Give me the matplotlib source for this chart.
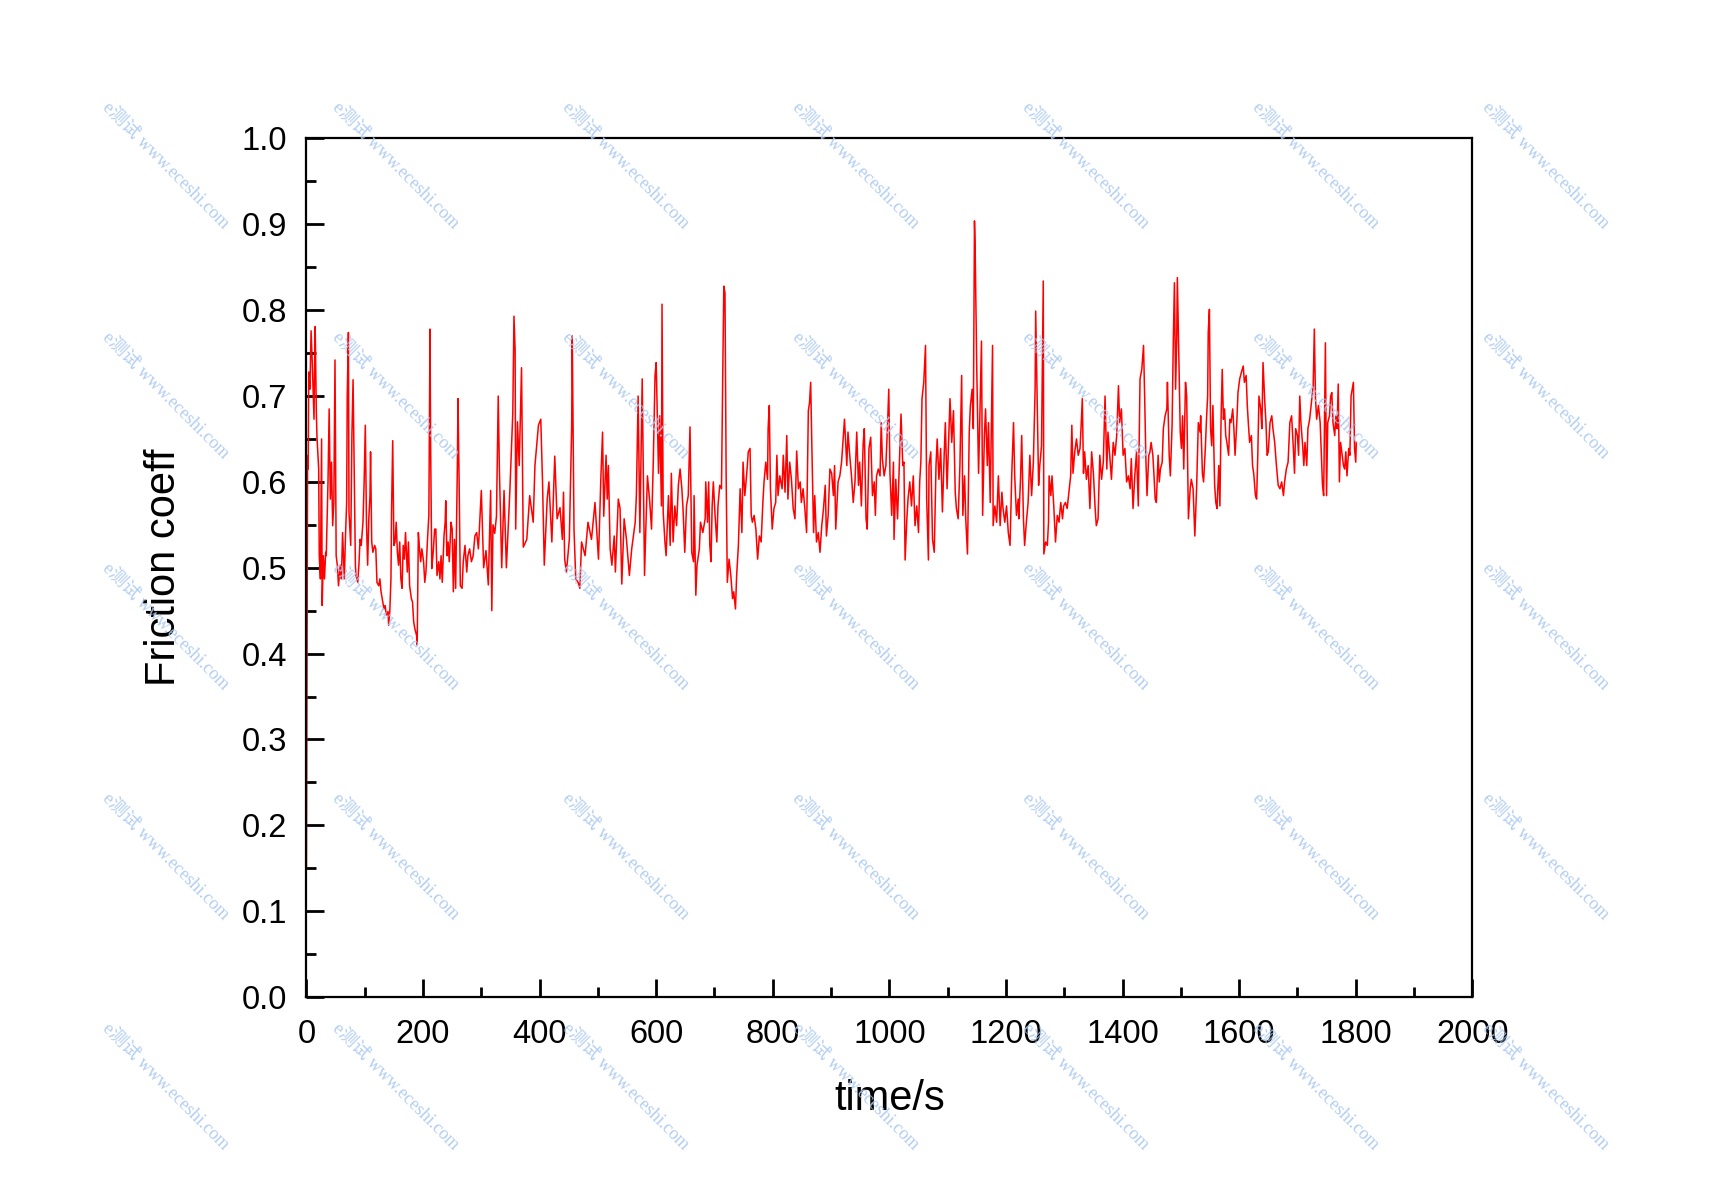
import matplotlib
matplotlib.use("Agg")
import matplotlib.pyplot as plt
import numpy as np
from matplotlib.ticker import MultipleLocator, FormatStrFormatter

# friction coefficient, in time segments
t_a = [0, 1, 2, 3, 4, 6, 8, 10, 11, 13, 14, 15, 17, 18, 21, 22, 24, 26, 27, 29,
       31, 33, 34, 37, 39, 41, 43, 45, 47, 49, 51, 53, 55, 58, 60, 62, 65, 67, 69, 70,
       72, 73, 76, 78, 80, 82, 84, 85, 88, 90, 92, 94, 97, 99, 101, 103, 105, 107, 109, 110,
       112, 114, 117, 119, 121, 124, 126, 128, 130, 133, 135, 137, 140, 141, 143, 145, 146, 148, 150, 152,
       154, 156, 158, 160, 162, 164, 166, 168, 170, 173, 175, 177, 180, 182, 184, 186, 189, 190, 192, 194,
       196, 198, 201, 203, 205, 208, 210, 212, 213, 215, 217, 220, 222, 224, 227, 229, 231, 233, 236, 238,
       239, 241, 243, 245, 248, 250, 252, 254, 256, 259, 260, 262, 264, 267, 269, 272, 275, 277, 280, 283,
       286, 289, 292, 295]
mu_a = [0.15, 0.39, 0.63, 0.615, 0.728, 0.708, 0.776, 0.739, 0.716, 0.673,
        0.735, 0.781, 0.681, 0.654, 0.615, 0.514, 0.487, 0.65, 0.456, 0.514,
        0.487, 0.518, 0.514, 0.6, 0.685, 0.58, 0.623, 0.549, 0.576, 0.742,
        0.514, 0.503, 0.479, 0.503, 0.487, 0.541, 0.487, 0.537, 0.576, 0.70,
        0.774, 0.565, 0.526, 0.654, 0.719, 0.607, 0.503, 0.491, 0.483, 0.503,
        0.533, 0.526, 0.553, 0.6, 0.666, 0.553, 0.503, 0.557, 0.584, 0.635,
        0.53, 0.518, 0.526, 0.522, 0.483, 0.479, 0.487, 0.472, 0.464, 0.452,
        0.456, 0.445, 0.449, 0.433, 0.449, 0.487, 0.565, 0.648, 0.526, 0.53,
        0.553, 0.518, 0.503, 0.53, 0.487, 0.476, 0.526, 0.51, 0.541, 0.495,
        0.53, 0.479, 0.464, 0.46, 0.437, 0.429, 0.421, 0.41, 0.541, 0.522,
        0.507, 0.522, 0.507, 0.483, 0.495, 0.537, 0.561, 0.778, 0.646, 0.499,
        0.514, 0.545, 0.545, 0.491, 0.507, 0.487, 0.514, 0.483, 0.537, 0.553,
        0.578, 0.514, 0.53, 0.507, 0.553, 0.545, 0.472, 0.533, 0.476, 0.623,
        0.697, 0.596, 0.479, 0.476, 0.507, 0.526, 0.495, 0.514, 0.522, 0.507,
        0.514, 0.537, 0.541, 0.522]

t_b = [300, 304, 308, 312, 316, 318, 320, 323, 326, 329, 331, 335, 339, 343, 349, 354, 356, 358, 359, 362,
       365, 369, 372, 378, 383, 389, 392, 398, 402, 405, 408, 413, 416, 421, 426, 430, 435, 439, 441, 443,
       446, 451, 455, 456, 459, 462, 466, 469, 472, 478, 483, 489, 495, 501, 505, 508, 510, 514, 516, 518,
       521, 524, 528, 530, 535, 538, 541, 545, 549, 554, 558, 564, 566, 569, 572, 576, 580, 582, 585, 589,
       592, 595, 598, 600, 604]
mu_b = [0.59, 0.50, 0.52, 0.48, 0.59, 0.45, 0.55, 0.54, 0.56, 0.70, 0.615, 0.50, 0.59, 0.50, 0.59, 0.68,
        0.793, 0.754, 0.545, 0.67, 0.619, 0.733, 0.524, 0.533, 0.584, 0.553, 0.619, 0.666, 0.673, 0.60,
        0.503, 0.58, 0.60, 0.53, 0.63, 0.557, 0.57, 0.533, 0.588, 0.51, 0.495, 0.533, 0.664, 0.77, 0.545,
        0.487, 0.483, 0.476, 0.53, 0.514, 0.553, 0.533, 0.576, 0.51, 0.603, 0.658, 0.56, 0.631, 0.58,
        0.619, 0.522, 0.503, 0.537, 0.495, 0.58, 0.569, 0.481, 0.557, 0.533, 0.491, 0.522, 0.553, 0.584,
        0.70, 0.541, 0.72, 0.491, 0.541, 0.607, 0.576, 0.545, 0.623, 0.724, 0.739, 0.61]

t_c = [606, 609, 610, 612, 615, 617, 621, 624, 626, 629, 632, 635, 638, 641, 644, 646, 649, 652, 655, 658,
       661, 664, 665, 668, 670, 674, 676, 680, 684, 685, 688, 690, 692, 694, 696, 698, 701, 704, 706, 709,
       712, 714, 716, 718, 720, 722, 725, 728, 731, 733, 736, 738, 741, 744, 747, 749, 752, 755, 758, 761,
       763, 765, 768, 771, 774, 777, 780, 783, 785, 788, 791, 792, 794, 796, 799, 802, 805, 807, 809, 812,
       816, 818, 821, 824, 826, 829, 832, 835, 838, 841, 844, 847, 849, 852, 855, 858, 861, 863, 865, 867,
       870, 872, 875, 878, 881, 884, 887, 890, 892, 895, 898, 901, 904, 906, 908, 912, 915]
mu_c = [0.677, 0.572, 0.807, 0.565, 0.53, 0.514, 0.584, 0.526, 0.61, 0.53, 0.572, 0.549, 0.596, 0.615,
        0.592, 0.569, 0.518, 0.572, 0.584, 0.664, 0.518, 0.507, 0.584, 0.468, 0.503, 0.522, 0.553, 0.541,
        0.557, 0.60, 0.553, 0.60, 0.526, 0.507, 0.572, 0.60, 0.561, 0.53, 0.572, 0.596, 0.592, 0.716,
        0.828, 0.82, 0.607, 0.483, 0.51, 0.491, 0.464, 0.472, 0.452, 0.491, 0.526, 0.592, 0.541, 0.623,
        0.584, 0.607, 0.635, 0.639, 0.561, 0.553, 0.561, 0.545, 0.51, 0.537, 0.53, 0.576, 0.60, 0.623,
        0.603, 0.662, 0.689, 0.592, 0.545, 0.569, 0.576, 0.631, 0.584, 0.607, 0.592, 0.631, 0.588, 0.654,
        0.58, 0.623, 0.603, 0.569, 0.557, 0.636, 0.592, 0.60, 0.576, 0.592, 0.569, 0.541, 0.683, 0.692,
        0.716, 0.642, 0.541, 0.584, 0.53, 0.541, 0.518, 0.549, 0.569, 0.596, 0.537, 0.561, 0.615, 0.61,
        0.584, 0.619, 0.545, 0.60, 0.607]

t_d = [918, 923, 927, 929, 932, 935, 938, 941, 944, 947, 949, 952, 955, 957, 960, 962, 965, 968, 971, 974,
       976, 978, 981, 984, 986, 988, 991, 994, 997, 999, 1001, 1004, 1007, 1008, 1011, 1014, 1017, 1020,
       1023, 1025, 1027, 1030, 1032, 1035, 1038, 1041, 1044, 1047, 1050, 1052, 1054, 1056, 1059, 1062,
       1064, 1067, 1068, 1071, 1074, 1077, 1080, 1082, 1085, 1088, 1091, 1094, 1096, 1099, 1102, 1104,
       1107, 1110, 1113, 1115, 1118, 1121, 1124, 1126, 1129, 1131, 1134, 1137, 1139, 1142, 1144, 1146,
       1147, 1150, 1153, 1155, 1158, 1160, 1163, 1165, 1168, 1170, 1173, 1177, 1178, 1181, 1184, 1187,
       1190, 1193, 1195, 1198, 1201, 1204, 1207, 1210, 1213, 1215, 1218, 1221]
mu_d = [0.623, 0.673, 0.619, 0.658, 0.631, 0.607, 0.576, 0.60, 0.658, 0.596, 0.623, 0.572, 0.644, 0.662,
        0.557, 0.545, 0.639, 0.652, 0.584, 0.60, 0.561, 0.607, 0.615, 0.607, 0.669, 0.627, 0.607, 0.619,
        0.669, 0.708, 0.61, 0.561, 0.623, 0.533, 0.603, 0.557, 0.619, 0.679, 0.619, 0.623, 0.509, 0.557,
        0.58, 0.60, 0.572, 0.607, 0.549, 0.572, 0.541, 0.60, 0.623, 0.697, 0.716, 0.759, 0.58, 0.509,
        0.619, 0.635, 0.533, 0.518, 0.619, 0.65, 0.603, 0.639, 0.565, 0.631, 0.669, 0.592, 0.654, 0.697,
        0.646, 0.683, 0.588, 0.569, 0.557, 0.619, 0.724, 0.561, 0.607, 0.557, 0.516, 0.658, 0.689, 0.708,
        0.662, 0.904, 0.879, 0.728, 0.61, 0.669, 0.764, 0.561, 0.654, 0.685, 0.619, 0.669, 0.576, 0.759,
        0.549, 0.572, 0.553, 0.607, 0.549, 0.588, 0.569, 0.553, 0.572, 0.541, 0.526, 0.61, 0.669, 0.607,
        0.561, 0.58]

t_e = [1222, 1225, 1227, 1230, 1232, 1235, 1238, 1241, 1244, 1247, 1250, 1251, 1254, 1256, 1258, 1261,
       1264, 1265, 1268, 1271, 1273, 1274, 1277, 1279, 1282, 1285, 1288, 1291, 1294, 1297, 1299, 1302,
       1305, 1308, 1311, 1313, 1315, 1318, 1321, 1324, 1327, 1329, 1331, 1333, 1335, 1338, 1341, 1344,
       1347, 1350, 1353, 1355, 1358, 1361, 1364, 1367, 1370, 1373, 1375, 1378, 1381, 1384, 1387, 1390,
       1393, 1395, 1398, 1401, 1404, 1407, 1410, 1413, 1415, 1418, 1421, 1424, 1427, 1430, 1433, 1436,
       1438, 1440, 1442, 1445, 1447, 1449, 1452, 1454, 1456, 1458, 1461, 1463, 1465, 1468, 1470, 1473,
       1476, 1477, 1480, 1482, 1485, 1487, 1489, 1491, 1493, 1494, 1497, 1499, 1501, 1503, 1505, 1508,
       1510, 1513, 1516, 1518, 1521, 1524]
mu_e = [0.557, 0.603, 0.654, 0.557, 0.526, 0.553, 0.576, 0.631, 0.584, 0.623, 0.708, 0.799, 0.677, 0.596,
        0.619, 0.642, 0.834, 0.516, 0.53, 0.526, 0.553, 0.607, 0.584, 0.607, 0.572, 0.53, 0.561, 0.553,
        0.576, 0.557, 0.572, 0.576, 0.569, 0.588, 0.607, 0.666, 0.61, 0.635, 0.65, 0.631, 0.639, 0.666,
        0.697, 0.61, 0.635, 0.603, 0.619, 0.569, 0.635, 0.61, 0.569, 0.549, 0.557, 0.631, 0.603, 0.623,
        0.70, 0.615, 0.658, 0.631, 0.603, 0.646, 0.631, 0.654, 0.712, 0.669, 0.685, 0.631, 0.639, 0.60,
        0.607, 0.592, 0.627, 0.569, 0.607, 0.635, 0.572, 0.72, 0.731, 0.759, 0.697, 0.627, 0.584, 0.631,
        0.635, 0.646, 0.631, 0.607, 0.58, 0.576, 0.631, 0.60, 0.615, 0.623, 0.662, 0.677, 0.685, 0.716,
        0.631, 0.607, 0.666, 0.762, 0.832, 0.708, 0.77, 0.838, 0.728, 0.658, 0.639, 0.677, 0.615, 0.716,
        0.70, 0.557, 0.592, 0.603, 0.592, 0.537]

t_f = [1527, 1530, 1533, 1534, 1537, 1539, 1542, 1544, 1546, 1547, 1549, 1551, 1553, 1555, 1558, 1560,
       1562, 1565, 1567, 1569, 1571, 1573, 1575, 1577, 1579, 1582, 1584, 1586, 1589, 1591, 1593, 1596,
       1598, 1601, 1604, 1607, 1609, 1612, 1614, 1616, 1618, 1621, 1623, 1625, 1628, 1630, 1632, 1634,
       1637, 1639, 1641, 1644, 1646, 1648, 1650, 1653, 1656, 1658, 1661, 1664, 1667, 1670, 1673, 1676,
       1678, 1681, 1684, 1687, 1690, 1693, 1695, 1697, 1700, 1702, 1704, 1706, 1709, 1711, 1713, 1716,
       1718, 1721, 1724, 1727, 1729, 1731, 1733, 1736, 1739, 1741, 1743, 1745, 1747, 1748, 1750, 1752,
       1755, 1757, 1759, 1761, 1764, 1766, 1768, 1770, 1772, 1774, 1776, 1779, 1781, 1783, 1785, 1788,
       1790, 1792, 1795, 1796, 1798, 1800, 1801]
mu_f = [0.592, 0.669, 0.658, 0.677, 0.61, 0.60, 0.639, 0.673, 0.70, 0.774, 0.801, 0.662, 0.642, 0.689,
        0.596, 0.576, 0.569, 0.619, 0.572, 0.673, 0.731, 0.673, 0.685, 0.654, 0.646, 0.631, 0.673, 0.669,
        0.685, 0.662, 0.631, 0.669, 0.704, 0.72, 0.728, 0.735, 0.716, 0.724, 0.689, 0.666, 0.646, 0.654,
        0.619, 0.61, 0.584, 0.58, 0.631, 0.70, 0.685, 0.662, 0.739, 0.693, 0.669, 0.631, 0.635, 0.669,
        0.677, 0.662, 0.646, 0.619, 0.596, 0.592, 0.60, 0.584, 0.60, 0.615, 0.623, 0.669, 0.677, 0.639,
        0.61, 0.662, 0.654, 0.631, 0.70, 0.669, 0.642, 0.619, 0.646, 0.619, 0.662, 0.673, 0.693, 0.712,
        0.778, 0.697, 0.673, 0.689, 0.669, 0.631, 0.596, 0.584, 0.708, 0.762, 0.584, 0.669, 0.677, 0.70,
        0.704, 0.669, 0.654, 0.677, 0.662, 0.714, 0.60, 0.646, 0.635, 0.619, 0.615, 0.635, 0.607, 0.639,
        0.631, 0.70, 0.712, 0.716, 0.639, 0.623, 0.646]

WATERMARK = "e测试 www.eceshi.com"

segments = [(t_a, mu_a), (t_b, mu_b), (t_c, mu_c), (t_d, mu_d), (t_e, mu_e), (t_f, mu_f)]
for i, (ts, ms) in enumerate(segments):
    assert len(ts) == len(ms), f"segment {i}: {len(ts)} vs {len(ms)}"
time_s = np.concatenate([np.array(ts, float) for ts, _ in segments])
mu = np.concatenate([np.array(ms, float) for _, ms in segments])

plt.rcParams["font.family"] = ["Liberation Sans", "DejaVu Sans"]

fig = plt.figure(figsize=(17.1, 11.97), dpi=100)
ax = fig.add_axes([0.1792, 0.1671, 0.8610 - 0.1792, 0.8843 - 0.1671])

ax.plot(time_s, mu, color="red", lw=1.1)

ax.set_xlim(0, 2000)
ax.set_ylim(0, 1.0)
ax.xaxis.set_major_locator(MultipleLocator(200))
ax.xaxis.set_minor_locator(MultipleLocator(100))
ax.yaxis.set_major_locator(MultipleLocator(0.1))
ax.yaxis.set_minor_locator(MultipleLocator(0.05))
ax.yaxis.set_major_formatter(FormatStrFormatter("%.1f"))

ax.tick_params(which="both", direction="in", top=False, right=False, width=2, labelsize=23.5)
ax.tick_params(which="major", length=13)
ax.tick_params(which="minor", length=7)
ax.tick_params(axis="x", pad=16)
ax.tick_params(axis="y", pad=14)
for s in ax.spines.values():
    s.set_linewidth(1.6)

ax.set_xlabel("time/s", fontsize=30, va="center")
ax.set_ylabel("Friction coeff", fontsize=30, va="center")
ax.xaxis.set_label_coords(0.5, -0.119)
ax.yaxis.set_label_coords(-0.122, 0.5)

# tiled site watermark
for j in range(5):
    for k in range(7):
        fig.text(0.0965 + 0.1345 * k, 1 - (0.1387 + 0.1922 * j), WATERMARK,
                 rotation=-45, rotation_mode="anchor", ha="center", va="center",
                 fontsize=13, color="#a9c8f0", alpha=0.9,
                 family=["Liberation Serif", "Noto Sans CJK SC"], zorder=10)

fig.savefig("out.png", dpi=100)
